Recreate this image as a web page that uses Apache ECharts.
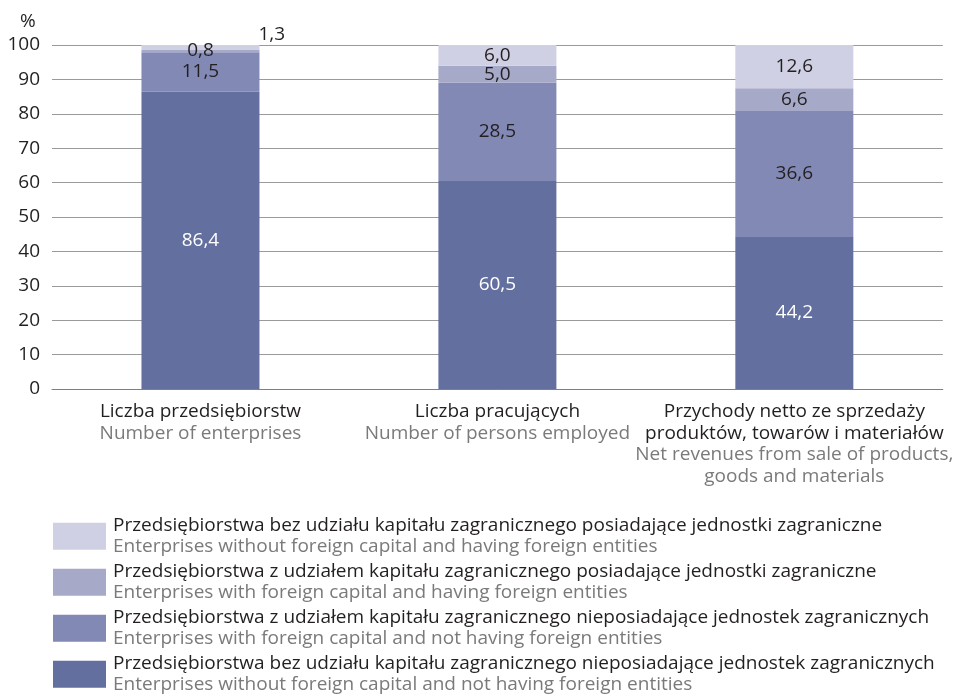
<!DOCTYPE html>
<html><head><meta charset="utf-8">
<script src="https://cdn.jsdelivr.net/npm/echarts@6/dist/echarts.min.js"></script>
<style>html,body{margin:0;padding:0;background:#fff}#c{width:956px;height:697px}</style>
</head><body><div id="c"></div>
<script>
const categoriesPL = ['Liczba przedsiębiorstw', 'Liczba pracujących', 'Przychody netto ze sprzedaży\nproduktów, towarów i materiałów'];
const categoriesEN = ['Number of enterprises', 'Number of persons employed', 'Net revenues from sale of products,\ngoods and materials'];
const seriesNamesPL = [
  'Przedsiębiorstwa bez udziału kapitału zagranicznego nieposiadające jednostek zagranicznych',
  'Przedsiębiorstwa z udziałem kapitału zagranicznego nieposiadające jednostek zagranicznych',
  'Przedsiębiorstwa z udziałem kapitału zagranicznego posiadające jednostki zagraniczne',
  'Przedsiębiorstwa bez udziału kapitału zagranicznego posiadające jednostki zagraniczne'
];
const seriesNamesEN = [
  'Enterprises without foreign capital and not having foreign entities',
  'Enterprises with foreign capital and not having foreign entities',
  'Enterprises with foreign capital and having foreign entities',
  'Enterprises without foreign capital and having foreign entities'
];
const withoutFCnotHaving = [86.4, 60.5, 44.2];
const withFCnotHaving = [11.5, 28.5, 36.6];
const withFChaving = [0.8, 5.0, 6.6];
const withoutFChaving = [1.3, 6.0, 12.6];
const yTicks = [0, 10, 20, 30, 40, 50, 60, 70, 80, 90, 100];

const colors = ['#636f9f', '#8289b5', '#a6a9c8', '#cfd0e3'];
const FONT = 'Open Sans';
const FS = 19;
const fmt = v => v.toFixed(1).replace('.', ',');
const seriesData = [withoutFCnotHaving, withFCnotHaving, withFChaving, withoutFChaving];

const series = seriesData.map((arr, si) => ({
  name: seriesNamesPL[si],
  type: 'bar',
  stack: 'total',
  barWidth: 118,
  itemStyle: { color: colors[si] },
  label: {
    show: true,
    position: 'inside',
    color: si === 0 ? '#ffffff' : '#231f20',
    fontFamily: FONT,
    fontSize: FS,
    formatter: p => fmt(p.value)
  },
  data: arr.map((v, i) => {
    if (si === 3 && i === 0) {
      return { value: v, label: { position: 'right', distance: -1, offset: [0, -13] } };
    }
    return v;
  })
}));

const chart = echarts.init(document.getElementById('c'));
chart.setOption({
  animation: false,
  title: { text: '%', left: 15, top: 7, textStyle: { fontFamily: FONT, fontSize: FS, fontWeight: 'normal', color: '#231f20' } },
  grid: { left: 52, right: 11, top: 45, bottom: 308 },
  xAxis: {
    type: 'category',
    data: categoriesPL,
    axisTick: { show: false },
    axisLine: { lineStyle: { color: '#808080', width: 1 } },
    axisLabel: {
      margin: 12,
      interval: 0,
      formatter: (val, idx) => categoriesPL[idx].split('\n').map(s => '{pl|' + s + '}').join('\n') + '\n' + categoriesEN[idx].split('\n').map(s => '{en|' + s + '}').join('\n'),
      rich: {
        pl: { fontFamily: FONT, fontSize: FS, color: '#231f20', lineHeight: 21.5 },
        en: { fontFamily: FONT, fontSize: FS, color: '#7a7a7a', lineHeight: 21.5 }
      }
    }
  },
  yAxis: {
    type: 'value',
    min: 0, max: 100, interval: 10,
    axisLine: { show: false },
    axisTick: { show: false },
    splitLine: { lineStyle: { color: '#9a9a9a', width: 1 } },
    axisLabel: {
      margin: 12,
      fontFamily: FONT, fontSize: FS, color: '#231f20',
      formatter: v => yTicks.includes(v) ? String(v) : ''
    }
  },
  legend: {
    orient: 'vertical',
    left: 48, top: 511, height: 200,
    itemWidth: 53, itemHeight: 27,
    itemGap: 5.5,
    icon: 'rect',
    selectedMode: false,
    data: [seriesNamesPL[3], seriesNamesPL[2], seriesNamesPL[1], seriesNamesPL[0]],
    formatter: name => {
      const i = seriesNamesPL.indexOf(name);
      return '{pl|' + seriesNamesPL[i] + '}\n{en|' + seriesNamesEN[i] + '}';
    },
    textStyle: {
      padding: [0, 0, 0, 2],
      rich: {
        pl: { fontFamily: FONT, fontSize: FS, color: '#231f20', lineHeight: 21.5 },
        en: { fontFamily: FONT, fontSize: FS, color: '#7a7a7a', lineHeight: 21.5 }
      }
    }
  },
  series: series
});
</script></body></html>
